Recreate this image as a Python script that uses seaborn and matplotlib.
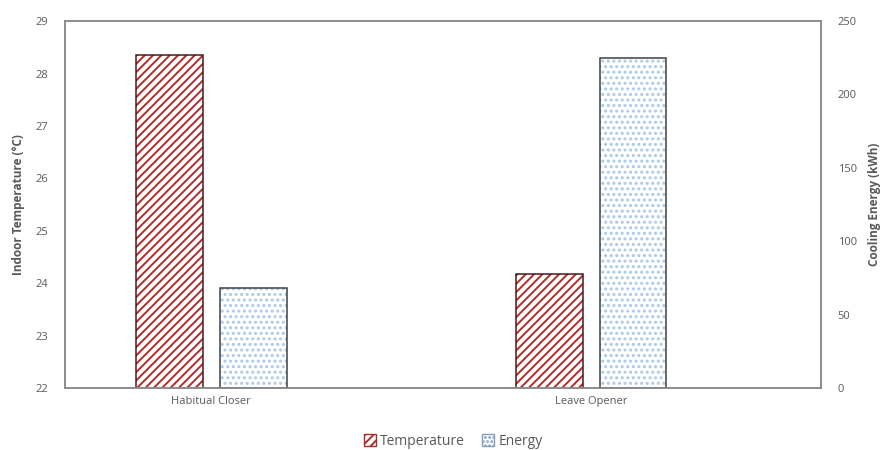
import matplotlib.pyplot as plt
import numpy as np
import pandas as pd
import seaborn as sns
from matplotlib.patches import Patch, Rectangle

categories = ['Habitual Closer', 'Leave Opener']
series = ['Temperature', 'Energy']
temperature = [28.35, 24.18]
energy = [68, 225]

TEMP_RED = '#b22b2b'
ENERGY_BLUE = '#a9c9e8'
GRAY = '#595959'


def style_bars(ax, hatch, hatch_color, edge_color):
    bars = [b for b in ax.patches if np.isfinite(b.get_height()) and b.get_height() != 0]
    for bar in bars:
        bar.set_facecolor('white')
        bar.set_hatch(hatch)
        bar.set_edgecolor(hatch_color)
        bar.set_linewidth(0)
        # outline drawn separately so the border can differ from the hatch colour
        ax.add_patch(Rectangle((bar.get_x(), bar.get_y()), bar.get_width(), bar.get_height(),
                               fill=False, edgecolor=edge_color, linewidth=1.1, zorder=bar.get_zorder() + 0.1))


def main():
    sns.set_style('white')
    plt.rcParams['font.family'] = ['Open Sans', 'DejaVu Sans']
    plt.rcParams['hatch.linewidth'] = 1.4

    df = pd.DataFrame({
        'cat': categories * 2,
        'series': ['Temperature'] * 2 + ['Energy'] * 2,
        'temp': temperature + [np.nan, np.nan],
        'energy': [np.nan, np.nan] + energy,
    })

    fig, ax = plt.subplots(figsize=(8.8, 4.5), dpi=100)
    fig.subplots_adjust(left=0.074, right=0.933, top=0.953, bottom=0.138)
    ax2 = ax.twinx()

    sns.barplot(data=df, x='cat', y='temp', hue='series', hue_order=series,
                order=categories, width=0.44, gap=0.2, ax=ax, legend=False)
    sns.barplot(data=df, x='cat', y='energy', hue='series', hue_order=series,
                order=categories, width=0.44, gap=0.2, ax=ax2, legend=False)
    style_bars(ax, '////', TEMP_RED, '#4a1a1a')
    style_bars(ax2, '...', ENERGY_BLUE, '#404040')

    ax.set_ylim(22, 29)
    ax2.set_ylim(0, 250)
    ax.set_xlim(-0.385, 1.605)
    ax.set_yticks(range(22, 30))
    ax2.set_yticks(range(0, 251, 50))

    ax.set_xlabel('')
    ax.set_ylabel('Indoor Temperature (°C)', fontsize=8.5, fontweight='bold', color=GRAY, labelpad=8)
    ax2.set_ylabel('Cooling Energy (kWh)', fontsize=8.5, fontweight='bold', color=GRAY, labelpad=8)

    for a in (ax, ax2):
        a.tick_params(axis='both', length=0, labelsize=8, colors=GRAY, pad=12)
        for s in a.spines.values():
            s.set_color('#8c8c8c')
            s.set_linewidth(1.2)
    ax.tick_params(axis='x', pad=6)

    handles = [
        Patch(facecolor='white', edgecolor=TEMP_RED, hatch='////', label='Temperature'),
        Patch(facecolor='white', edgecolor='#7f9fbf', hatch='....', label='Energy'),
    ]
    fig.legend(handles=handles, loc='lower center', ncol=2, frameon=False,
               bbox_to_anchor=(0.515, -0.025), fontsize=10, handlelength=0.9,
               handleheight=0.9, handletextpad=0.3, columnspacing=1.2,
               labelcolor=GRAY)

    fig.savefig('out.png', dpi=100)


if __name__ == '__main__':
    main()
